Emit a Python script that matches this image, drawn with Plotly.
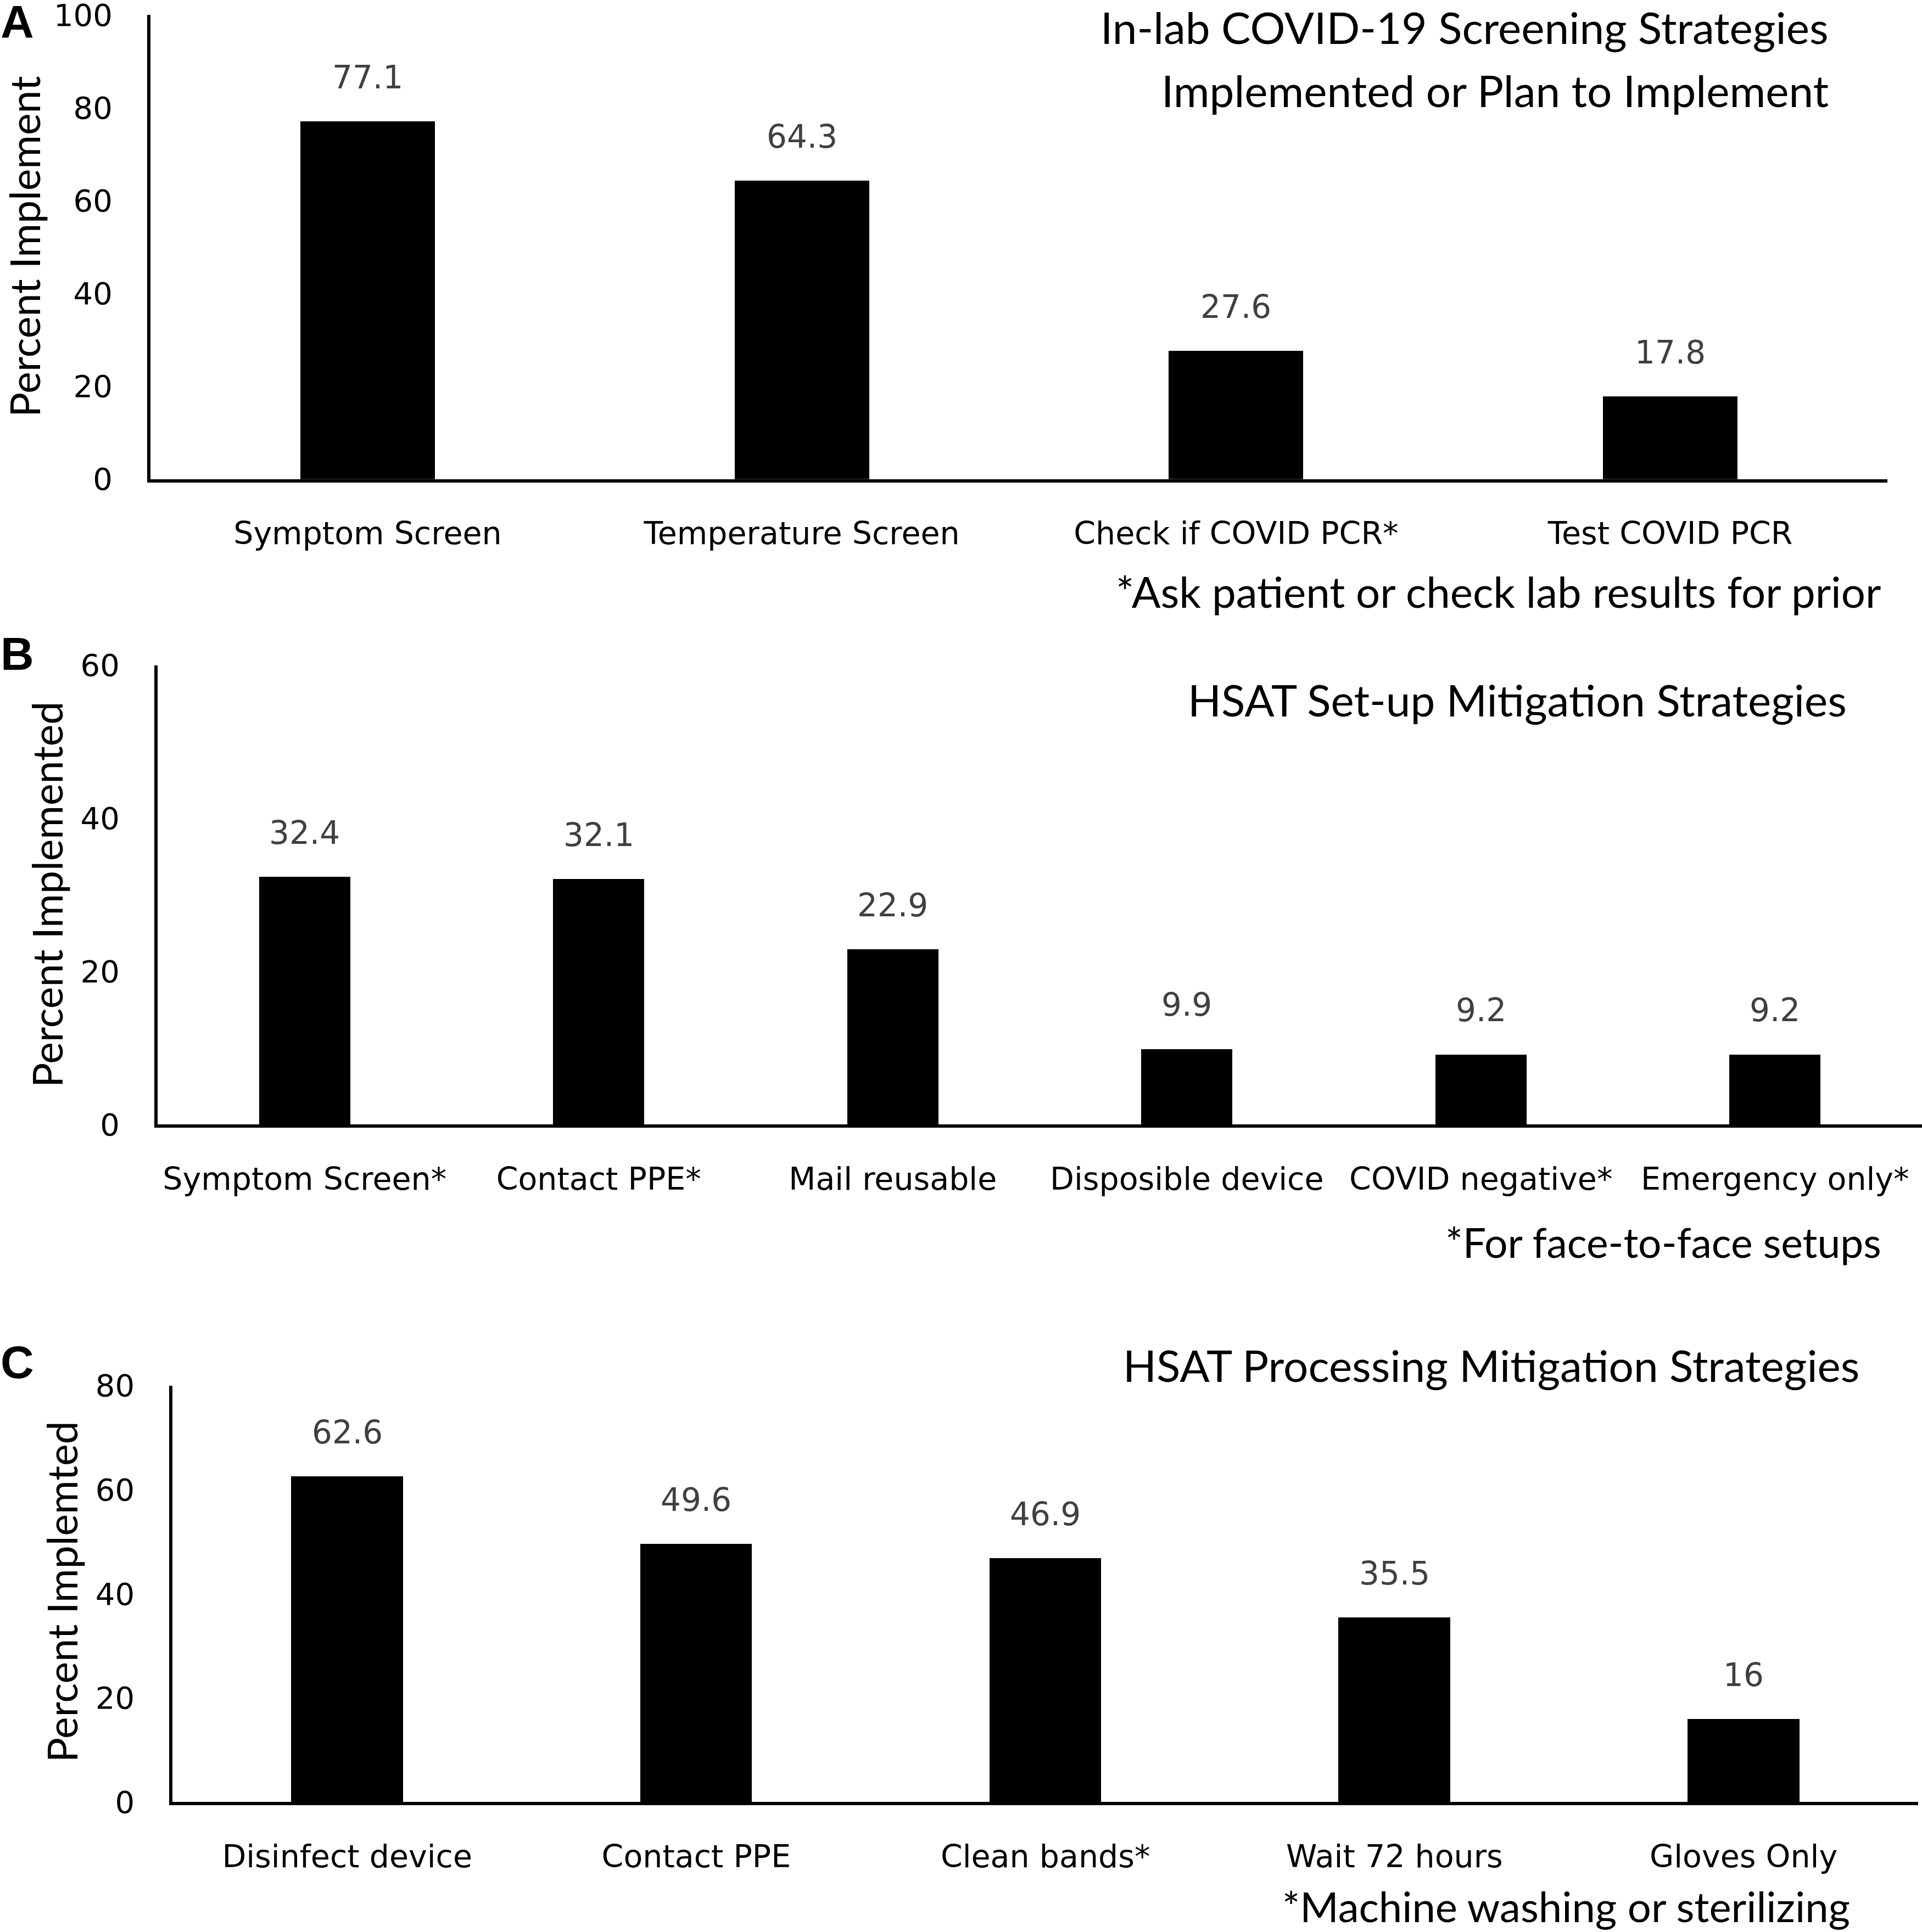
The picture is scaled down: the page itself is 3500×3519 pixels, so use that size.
import plotly.graph_objects as go

# ---- data ----
cats_a = ["Symptom Screen", "Temperature Screen", "Check if COVID PCR*", "Test COVID PCR"]
vals_a = [77.1, 64.3, 27.6, 17.8]

cats_b = ["Symptom Screen*", "Contact PPE*", "Mail reusable", "Disposible device",
          "COVID negative*", "Emergency only*"]
vals_b = [32.4, 32.1, 22.9, 9.9, 9.2, 9.2]

cats_c = ["Disinfect device", "Contact PPE", "Clean bands*", "Wait 72 hours", "Gloves Only"]
vals_c = [62.6, 49.6, 46.9, 35.5, 16]

yticks_a = [0, 20, 40, 60, 80, 100]
yticks_b = [0, 20, 40, 60]
yticks_c = [0, 20, 40, 60, 80]

W, H = 3500, 3519
NUM_FONT = "DejaVu Sans"
CAT_FONT = "DejaVu Sans"
TXT_FONT = "Lato, Open Sans, sans-serif"
YT_FONT = "Lato, Open Sans, sans-serif"

fig = go.Figure()

panels = [
    dict(cats=cats_a, vals=vals_a, yt=yticks_a, xa="x", ya="y",
         xd=[0.0783, 0.982], yd=[0.752, 0.9923], bw=0.31),
    dict(cats=cats_b, vals=vals_b, yt=yticks_b, xa="x2", ya="y2",
         xd=[0.082, 1.0], yd=[0.4179, 0.6557], bw=0.31),
    dict(cats=cats_c, vals=vals_c, yt=yticks_c, xa="x3", ya="y3",
         xd=[0.0898, 0.998], yd=[0.0673, 0.2828], bw=0.32),
]

annotations = []
for i, p in enumerate(panels):
    fig.add_trace(go.Bar(x=p["cats"], y=p["vals"], xaxis=p["xa"], yaxis=p["ya"],
                         marker=dict(color="black", line=dict(width=0)),
                         width=p["bw"], showlegend=False, hoverinfo="skip"))
    sfx = "" if i == 0 else str(i + 1)
    fig.layout["xaxis" + sfx] = dict(
        domain=p["xd"], anchor=p["ya"], type="category", automargin=False,
        showline=True, linewidth=6, linecolor="black", showgrid=False, zeroline=False,
        ticks="outside", ticklen=44, tickcolor="rgba(0,0,0,0)", tickangle=0,
        tickfont=dict(family=CAT_FONT, size=57, color="black"),
        range=[-0.5, len(p["cats"]) - 0.5], fixedrange=True)
    fig.layout["yaxis" + sfx] = dict(
        domain=p["yd"], anchor=p["xa"], automargin=False, ticklabeloverflow="allow",
        showline=True, linewidth=6, linecolor="black", showgrid=False, zeroline=False,
        range=[0, p["yt"][-1]], tickvals=p["yt"], ticktext=[str(t) for t in p["yt"]],
        ticks="outside", ticklen=52, tickcolor="rgba(0,0,0,0)",
        tickfont=dict(family=NUM_FONT, size=56, color="black"), fixedrange=True)
    for c, v in zip(p["cats"], p["vals"]):
        annotations.append(dict(x=c, y=v, xref=p["xa"], yref=p["ya"], text=f"{v:g}",
                                showarrow=False, yanchor="bottom", yshift=44,
                                font=dict(family=NUM_FONT, size=58, color="#404040")))

def txt(x, y, s, size, xanchor="right", family=TXT_FONT, angle=0, bold=False, color="black"):
    annotations.append(dict(x=x, y=y, xref="paper", yref="paper", text=(f"<b>{s}</b>" if bold else s),
                            showarrow=False, xanchor=xanchor, yanchor="middle", textangle=angle,
                            font=dict(family=family, size=size, color=color)))

# panel letters
txt(0.009, 0.9885, "A", 84, xanchor="center", family="Liberation Sans, Arial", bold=True)
txt(0.009, 0.6615, "B", 84, xanchor="center", family="Liberation Sans, Arial", bold=True)
txt(0.009, 0.2950, "C", 84, xanchor="center", family="Liberation Sans, Arial", bold=True)

# titles
txt(0.952, 0.986, "In-lab COVID-19 Screening Strategies", 80)
txt(0.952, 0.9535, "Implemented or Plan to Implement", 80)
txt(0.9615, 0.638, "HSAT Set-up Mitigation Strategies", 80)
txt(0.968, 0.2936, "HSAT Processing Mitigation Strategies", 80)

# footnotes
txt(0.979, 0.694, "*Ask patient or check lab results for prior", 78)
txt(0.9795, 0.3573, "*For face-to-face setups", 75)
txt(0.963, 0.0135, "*Machine washing or sterilizing", 76)

# y titles
txt(0.0125, 0.8724, "Percent Implement", 75, xanchor="center", family=YT_FONT, angle=-90)
txt(0.0244, 0.537, "Percent Implemented", 75, xanchor="center", family=YT_FONT, angle=-90)
txt(0.032, 0.1762, "Percent Implemted", 75, xanchor="center", family=YT_FONT, angle=-90)

fig.update_layout(width=W, height=H, margin=dict(l=0, r=0, t=0, b=0, autoexpand=False),
                  paper_bgcolor="white", plot_bgcolor="white",
                  annotations=annotations, bargap=0)
fig.write_html("out.html", config={"displayModeBar": False},
               post_script="document.body.style.margin='0';")
